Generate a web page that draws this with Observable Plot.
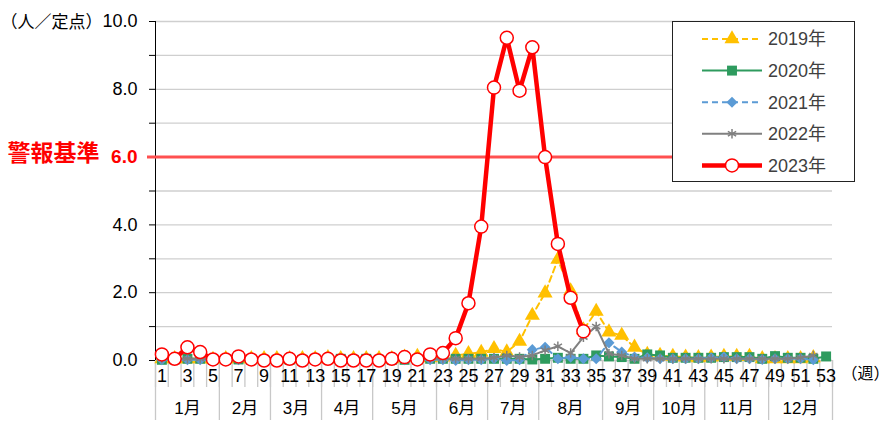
<!DOCTYPE html>
<html><head><meta charset="utf-8">
<script src="https://cdn.jsdelivr.net/npm/d3@7"></script>
<script src="https://cdn.jsdelivr.net/npm/@observablehq/plot@0.6"></script>
<style>
body{margin:0;background:#fff;}
#wrap{position:relative;width:890px;height:424px;font-family:"Liberation Sans","Noto Sans CJK JP",sans-serif;}
#legend{position:absolute;left:672px;top:21px;width:181px;height:159px;border:1px solid #222;background:#fff;}
</style></head><body><div id="wrap"><div id="legend"></div></div>
<script>
// ---- data ----
const weekLabels = d3.range(1, 54, 2);
const months = ["1月","2月","3月","4月","5月","6月","7月","8月","9月","10月","11月","12月"];
const monthLastWeek = [5, 9, 13, 17, 22, 26, 30, 35, 39, 43, 48, 53];
const years = ["2019年","2020年","2021年","2022年","2023年"];
const y2019 = [0.05,0.05,0.05,0.05,0.03,0.05,0.05,0.05,0.05,0.05,0.05,0.05,0.05,0.08,0.05,0.05,0.05,0.05,0.05,0.1,
  0.12,0.08,0.1,0.15,0.2,0.24,0.35,0.25,0.56,1.33,1.99,2.98,2.05,0.9,1.45,0.84,0.74,0.39,0.18,0.15,
  0.12,0.1,0.08,0.1,0.12,0.12,0.12,0.05,0.05,0.05,0.05,0.08];
const y2020 = [0.02,0.03,0.05,0.05,0.02,0.02,0.03,0.02,0.02,0.02,0.02,0.02,0.05,0.05,0.05,0.02,0.05,0.02,0.02,0.02,
  0.02,0.05,0.05,0.05,0.05,0.05,0.05,0.05,0.05,0.03,0.05,0.08,0.05,0.05,0.15,0.12,0.1,0.05,0.18,0.15,
  0.08,0.08,0.08,0.08,0.1,0.1,0.1,0.05,0.13,0.08,0.08,0.05,0.12];
const y2021 = [0.02,0.02,0.02,0.02,0.0,0.0,0.02,0.0,0.0,0.0,0.0,0.0,0.0,0.02,0.0,0.0,0.0,0.0,0.0,0.02,
  0.02,0.02,0.02,0.0,0.02,0.02,0.05,0.0,0.02,0.32,0.39,0.05,0.1,0.05,0.05,0.52,0.25,0.1,0.08,0.05,
  0.05,0.05,0.05,0.08,0.1,0.05,0.05,0.03,0.05,0.05,0.05,0.02];
const y2022 = [0.05,0.05,0.05,0.05,0.03,0.03,0.03,0.03,0.03,0.03,0.03,0.03,0.03,0.03,0.03,0.03,0.03,0.03,0.03,0.05,
  0.05,0.05,0.05,0.05,0.05,0.05,0.08,0.15,0.1,0.15,0.3,0.42,0.22,0.69,1.0,0.2,0.15,0.05,0.05,0.05,
  0.05,0.05,0.05,0.05,0.05,0.05,0.05,0.05,0.05,0.05,0.08,0.15];
const y2023 = [0.18,0.05,0.39,0.25,0.03,0.03,0.12,0.03,0.0,0.0,0.05,0.0,0.03,0.05,0.0,0.0,0.0,0.0,0.05,0.1,
  0.03,0.18,0.22,0.66,1.69,3.95,8.05,9.52,7.96,9.24,6.0,3.44,1.85,0.86];
const alertLevel = 6.0;
const yTicks = d3.range(0, 11);

// ---- styling ----
const FONT = '"Liberation Sans","Noto Sans CJK JP",sans-serif';
const styles = [
  {vals: y2019, color: "#FFC000", width: 2, dash: "6,4", symbol: "triangle", r: 5.6, fill: "#FFC000", stroke: "none"},
  {vals: y2020, color: "#2E9B5E", width: 2, dash: null, symbol: "square", r: 5.6, fill: "#2E9B5E", stroke: "none"},
  {vals: y2021, color: "#5B9BD5", width: 2, dash: "6,4", symbol: "diamond2", r: 5.0, fill: "#5B9BD5", stroke: "none"},
  {vals: y2022, color: "#808080", width: 2, dash: null, symbol: "asterisk", r: 4.5, fill: "none", stroke: "#808080"},
  {vals: y2023, color: "#FF0000", width: 4.5, dash: null, symbol: "circle", r: 6.5, fill: "#fff", stroke: "#FF0000"}
];

const W = 890, H = 424, mL = 155, mR = 58, mT = 21, mB = 64;
const ppu = (H - mB - mT) / 10;
const weekBounds = d3.range(0.5, 54, 1);
const monthBounds = [0.5, ...monthLastWeek.map(w => w + 0.5)];
const monthCenters = monthLastWeek.map((w, i) => ((i ? monthLastWeek[i-1] : 0) + 1 + w) / 2);

const seriesMarks = styles.flatMap(s => {
  const data = s.vals.map((v, i) => ({w: i + 1, v}));
  return [
    Plot.line(data, {x: "w", y: "v", stroke: s.color, strokeWidth: s.width, strokeDasharray: s.dash, strokeLinejoin: "round"}),
    Plot.dot(data, {x: "w", y: "v", symbol: () => s.symbol, r: s.r, fill: s.fill, stroke: s.stroke, strokeWidth: 1.5})
  ];
});

const chart = Plot.plot({
  width: W, height: H,
  marginLeft: mL, marginRight: mR, marginTop: mT, marginBottom: mB,
  x: {domain: [0.5, 53.5], axis: null},
  y: {domain: [0, 10], axis: null},
  symbol: {type: "identity"},
  style: {fontFamily: FONT, fontSize: "17px", color: "#000", background: "transparent", overflow: "visible"},
  marks: [
    Plot.ruleY(yTicks.filter(d => d > 0), {stroke: "#cfcfcf", strokeWidth: 1.3}),
    Plot.ruleY([0], {stroke: "#bfbfbf", strokeWidth: 1.3}),
    Plot.ruleX(weekBounds, {y1: 0, y2: -27 / ppu, stroke: "#c8c8c8", strokeWidth: 1.3}),
    Plot.ruleX(monthBounds, {y1: 0, y2: -60 / ppu, stroke: "#c8c8c8", strokeWidth: 1.3}),
    Plot.ruleX([0.5], {y1: 0, y2: 10, stroke: "#000", strokeWidth: 1}),
    Plot.axisY({ticks: yTicks, label: null, tickSize: 6, tickPadding: 12, fontSize: 18, stroke: "#000", fill: "#000",
      tickFormat: d => (d % 2 === 0 && d !== alertLevel) ? d.toFixed(1) : ""}),
    Plot.ruleY([alertLevel], {stroke: "#FF5050", strokeWidth: 3, insetLeft: -8}),
    Plot.text([alertLevel], {x: 0.5, y: d => d, text: d => d.toFixed(1), dx: -18, textAnchor: "end", fill: "#FF0000", fontWeight: "bold", fontSize: 19}),
    Plot.text([alertLevel], {x: 0.5, y: d => d, text: () => "警報基準", dx: -56, dy: -3, textAnchor: "end", fill: "#FF0000", fontWeight: "bold", fontSize: 23}),
    Plot.text([10], {x: 0.5, y: d => d, text: () => "（人／定点）", dx: -155, dy: 1, textAnchor: "start", fill: "#000", fontSize: 17}),
    ...seriesMarks,
    Plot.text(weekLabels, {x: d => d, y: 0, text: d => String(d), dy: 16, fill: "#000", fontSize: 18}),
    Plot.text(months, {x: (d, i) => monthCenters[i], y: 0, text: d => d, dy: 48, fill: "#000", fontSize: 17}),
    Plot.text([0], {x: 53.5, y: d => d, text: () => "（週）", dx: 9, dy: 13, textAnchor: "start", fill: "#000", fontSize: 16})
  ]
});
document.getElementById("wrap").prepend(chart);

// ---- legend ----
const leg = d3.select("#legend").append("svg").attr("width", 181).attr("height", 159)
  .style("font-family", FONT);
const symMap = {triangle: d3.symbolTriangle, square: d3.symbolSquare, diamond2: d3.symbolDiamond2, asterisk: d3.symbolAsterisk, circle: d3.symbolCircle};
styles.forEach((s, i) => {
  const g = leg.append("g").attr("transform", `translate(0,${17 + i * 31.6})`);
  g.append("line").attr("x1", 29).attr("x2", 89).attr("y1", 0).attr("y2", 0)
    .attr("stroke", s.color).attr("stroke-width", s.width).attr("stroke-dasharray", s.dash);
  g.append("path").attr("transform", "translate(59,0)")
    .attr("d", d3.symbol(symMap[s.symbol], Math.PI * s.r * s.r)())
    .attr("fill", s.fill).attr("stroke", s.stroke).attr("stroke-width", 1.5);
  g.append("text").attr("x", 95).attr("y", 0).attr("dy", "0.35em")
    .attr("font-size", 18).attr("fill", "#404040").text(years[i]);
});
</script>
</body></html>
